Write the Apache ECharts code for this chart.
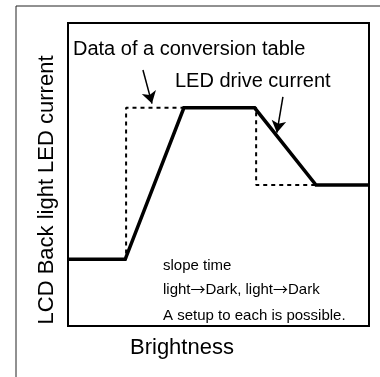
<!DOCTYPE html>
<html>
<head>
<meta charset="utf-8">
<script src="https://cdn.jsdelivr.net/npm/echarts@6/dist/echarts.min.js"></script>
<style>
  html, body { margin: 0; padding: 0; background: #fff; }
  #chart { width: 380px; height: 377px; }
</style>
</head>
<body>
<div id="chart"></div>
<script>
// Relative scales: brightness 0–100 along x, LED current 0–100 along y.

// LED drive current (with slopes)
const driveBrightness = [0, 19, 38.5, 62, 82.4, 100];
const driveCurrent    = [22, 22, 72, 72, 46.5, 46.5];

// Conversion table data (steps)
const tableBrightness = [0, 19.3, 19.3, 62.5, 62.5, 82.4];
const tableCurrent    = [22, 22, 72, 72, 46.5, 46.5];

// Callout arrows: [start, tip]
const tableArrow = [[24.9, 84.5], [27.9, 73.4]];
const driveArrow = [[71.4, 75.6], [69.4, 63.8]];

// Text
const yTitle = 'LCD Back light LED current';
const xTitle = 'Brightness';
const tableLabel = 'Data of a conversion table';
const driveLabel = 'LED drive current';
const notes = ['slope time', 'light{arr|\u2192}Dark, light{arr|\u2192}Dark', 'A setup to each is possible.'];

const zip = (xs, ys) => xs.map((x, i) => [x, ys[i]]);
const FONT = '"Liberation Sans", Arial, Helvetica, sans-serif';

const chart = echarts.init(document.getElementById('chart'), null, { renderer: 'canvas' });

const arrowLine = (pair) => [[{ coord: pair[0] }, { coord: pair[1] }]];

const textEl = (text, x, y, size) => ({
  type: 'text', x: x, y: y,
  style: {
    text: text, font: size + 'px ' + FONT, fill: '#000', textVerticalAlign: 'bottom',
    rich: { arr: { fontFamily: '"Noto Sans CJK JP"', fontSize: size, fill: '#000' } }
  }
});

chart.setOption({
  animation: false,
  backgroundColor: '#fff',
  grid: {
    left: 68, top: 23, right: 11, bottom: 51,
    show: true, borderColor: '#000', borderWidth: 2, backgroundColor: 'transparent'
  },
  xAxis: { type: 'value', min: 0, max: 100, show: false },
  yAxis: { type: 'value', min: 0, max: 100, show: false },
  series: [
    {
      name: tableLabel,
      type: 'line',
      data: zip(tableBrightness, tableCurrent),
      symbol: 'none',
      lineStyle: { color: '#000', width: 2, type: [4, 4] },
      markLine: {
        silent: true,
        symbol: ['none', 'arrow'],
        symbolSize: [11, 12],
        label: { show: false },
        lineStyle: { color: '#000', width: 1.5, type: 'solid' },
        data: arrowLine(tableArrow)
      },
      z: 2
    },
    {
      name: driveLabel,
      type: 'line',
      data: zip(driveBrightness, driveCurrent),
      symbol: 'none',
      clip: false,
      lineStyle: { color: '#000', width: 3.5, cap: 'butt', join: 'miter' },
      markLine: {
        silent: true,
        symbol: ['none', 'arrow'],
        symbolSize: [11, 12],
        label: { show: false },
        lineStyle: { color: '#000', width: 1.5, type: 'solid' },
        data: arrowLine(driveArrow)
      },
      z: 3
    }
  ],
  graphic: [
    {
      type: 'rect', silent: true, z: -1,
      shape: { x: 16, y: 6, width: 420, height: 420 },
      style: { fill: 'none', stroke: '#222', lineWidth: 1 }
    },
    textEl(tableLabel, 73, 59, 20),
    textEl(driveLabel, 175, 91, 20),
    textEl(notes[0], 163, 273, 15),
    textEl(notes[1], 163, 297, 15),
    textEl(notes[2], 163, 323, 15),
    textEl(xTitle, 130, 359, 22),
    {
      type: 'text', x: 47, y: 190, rotation: Math.PI / 2,
      style: { text: yTitle, font: '22px ' + FONT, fill: '#000', textAlign: 'center', textVerticalAlign: 'middle' }
    }
  ]
});
</script>
</body>
</html>
